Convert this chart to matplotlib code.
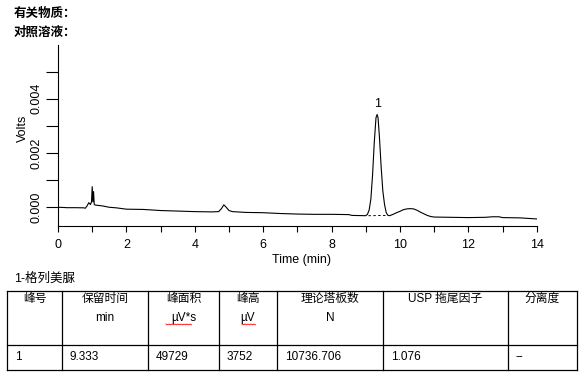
import numpy as np
import matplotlib
matplotlib.use('Agg')
import matplotlib.pyplot as plt
from matplotlib.ticker import MultipleLocator, FormatStrFormatter

plt.rcParams['font.family'] = ['Liberation Sans', 'Noto Sans CJK SC', 'DejaVu Sans']

# chromatogram (time in min, signal in 1e-4 V)
t = [0.0, 0.2, 0.25, 0.5, 0.75, 0.8, 0.85, 0.9, 0.95, 0.98, 1.0, 1.02, 1.04, 1.06,
     1.1, 1.3, 1.5, 1.7, 2.0, 2.5, 3.0, 3.5, 4.0, 4.5, 4.7, 4.78, 4.85, 4.92, 5.0,
     5.1, 5.5, 6.0, 6.5, 7.0, 7.5, 8.0, 8.5, 8.6, 9.0, 9.05, 9.1, 9.15, 9.2, 9.25,
     9.3, 9.333, 9.36, 9.4, 9.45, 9.5, 9.55, 9.6, 9.65, 9.7, 9.8, 9.9, 10.0, 10.1,
     10.2, 10.3, 10.4, 10.5, 10.6, 10.7, 10.8, 10.9, 11.0, 11.5, 12.0, 12.5, 12.7,
     12.9, 13.0, 13.5, 14.0]
sig = [0.0, -0.1, -0.15, -0.15, -0.2, -0.35, 0.5, 1.7, 1.0, 2.0, 7.6, 2.0, 5.8, 1.0,
       0.8, 0.5, 0.0, -0.2, -0.7, -0.8, -1.2, -1.4, -1.6, -1.7, -1.6, -0.5, 0.9, 0.0, -1.2,
       -1.6, -1.9, -2.0, -2.3, -2.5, -2.6, -2.6, -2.7, -3.0, -3.1, -2.6, -1.0, 3.0, 12.0, 24.0,
       33.0, 34.2, 33.0, 26.0, 15.0, 6.0, 1.0, -2.0, -3.0, -3.1, -2.6, -2.0, -1.5, -0.9,
       -0.6, -0.5, -0.6, -1.1, -1.8, -2.4, -3.0, -3.4, -3.6, -3.7, -3.8, -3.7, -3.5,
       -3.5, -3.8, -3.9, -4.3]
volts = np.array(sig) * 1e-4

peak_rt = 9.333
peak_top = 34.2e-4
base_t = [9.08, 9.65]
base_v = [-3.1e-4, -3.0e-4]

titles = ['有关物质：', '对照溶液：']
table_title = '1-格列美脲'
col_lines = [7, 62, 148, 219, 277, 383, 508, 577]
head1 = ['峰号', '保留时间', '峰面积', '峰高', '理论塔板数', 'USP 拖尾因子', '分离度']
head2 = ['', 'min', 'µV*s', 'µV', 'N', '', '']
row = ['1', '9.333', '49729', '3752', '10736.706', '1.076', '--']

fig = plt.figure(figsize=(5.88, 3.82), dpi=100)
W, H = 588, 382
ax = fig.add_axes([58 / W, 1 - 226 / H, (536.7 - 58) / W, (226 - 45) / H])

ax.plot(t, volts, color='black', lw=0.8)
ax.plot(base_t, base_v, color='black', lw=0.7, ls=(0, (2.5, 2.5)))
ax.annotate('1', (peak_rt, peak_top), xytext=(0, 3), textcoords='offset points',
            ha='center', va='bottom', fontsize=9)

ax.set_xlim(0, 14)
ax.set_ylim(-0.00069, 0.00598)
ax.spines['top'].set_visible(False)
ax.spines['right'].set_visible(False)
for s in ['left', 'bottom']:
    ax.spines[s].set_linewidth(0.8)
ax.xaxis.set_major_locator(MultipleLocator(2))
ax.xaxis.set_minor_locator(MultipleLocator(1))
ax.yaxis.set_major_locator(MultipleLocator(0.002))
ax.yaxis.set_minor_locator(MultipleLocator(0.001))
ax.yaxis.set_major_formatter(FormatStrFormatter('%.3f'))
ax.tick_params(axis='x', which='both', length=4, width=0.8, labelsize=9, pad=5)
ax.tick_params(axis='y', which='both', length=9, width=0.8, labelsize=9, pad=2)
for lab in ax.get_yticklabels():
    lab.set_rotation(90)
    lab.set_va('center')

# overlay in pixel coordinates for the labels and the table
ov = fig.add_axes([0, 0, 1, 1])
ov.set_xlim(0, W)
ov.set_ylim(H, 0)
ov.axis('off')
ov.patch.set_visible(False)

ov.text(301, 260, 'Time (min)', ha='center', va='center', fontsize=9)
ov.text(23, 128, 'Volts', ha='center', va='center', rotation=90, fontsize=9)

ov.text(14, 13.5, titles[0], ha='left', va='center', fontsize=9, fontweight='bold')
ov.text(14, 33, titles[1], ha='left', va='center', fontsize=9, fontweight='bold')
ov.text(14, 279, table_title, ha='left', va='center', fontsize=9)

top, mid, bot = 291, 345, 370
for y in [top, mid, bot]:
    ov.plot([col_lines[0], col_lines[-1]], [y, y], color='black', lw=0.9)
for x in col_lines:
    ov.plot([x, x], [top, bot], color='black', lw=0.9)

for i in range(len(head1)):
    xc = (col_lines[i] + col_lines[i + 1]) / 2
    ov.text(xc, 299, head1[i], ha='center', va='center', fontsize=8.5)
    if head2[i]:
        ov.text(xc, 318, head2[i], ha='center', va='center', fontsize=8.5)
    ov.text(col_lines[i] + 8, 357, row[i], ha='left', va='center', fontsize=8.5)

# red spell-check squiggles under the units
for x0, x1 in [(166, 192), (242, 256)]:
    xs = np.arange(x0, x1 + 1, 1.5)
    ys = 324 + 0.8 * (np.arange(len(xs)) % 2)
    ov.plot(xs, ys, color='red', lw=0.6)

fig.savefig('out.png', dpi=100)
